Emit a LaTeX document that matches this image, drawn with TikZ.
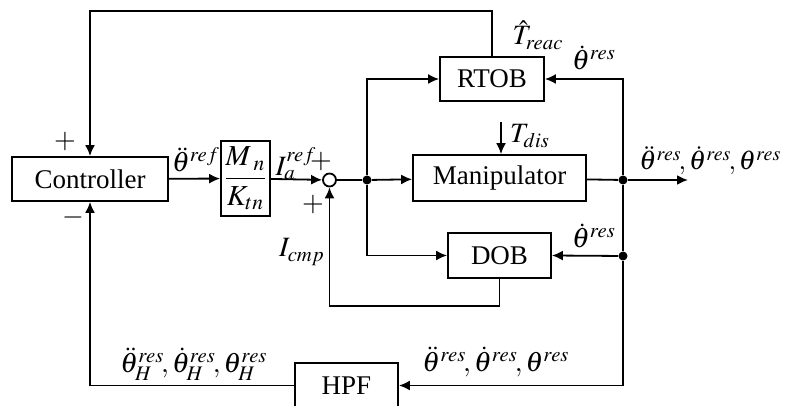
\documentclass[tikz,border=0pt]{standalone}
\usepackage{mathptmx}
\usepackage[no-math]{fontspec}
\setmainfont{Liberation Serif}
\usetikzlibrary{arrows.meta}
\tikzset{
  block/.style = {rectangle, draw=black, line width=0.9pt, align=center,
                  inner sep=2pt, font=\fontsize{13.5}{16}\selectfont},
  junc/.style  = {circle, draw=black, line width=0.9pt, fill=white,
                  minimum size=6.5pt, inner sep=0pt},
  tap/.style   = {circle, fill=black, minimum size=4.5pt, inner sep=0pt},
  flow/.style  = {-{Latex[length=5.5pt,width=5pt]}, line width=0.9pt},
  wire/.style  = {line width=0.9pt},
  sig/.style   = {font=\fontsize{14}{17}\selectfont, inner sep=0pt},
}

\begin{document}
\begin{tikzpicture}[x=0.5pt, y=-0.5pt]
      \clip (0,0) rectangle (787,406);
      \fill[white] (0,0) rectangle (787,406);

      % blocks
      \node[block, minimum width=78pt, minimum height=22pt]   (ctrl) at (90,179)    {Controller};
      \node[block, minimum width=24.5pt, minimum height=37.5pt, inner sep=1pt,
            font=\fontsize{14.5}{17}\selectfont] (gain) at (245.5,178.5)
           {$\displaystyle\frac{M_{\;n}}{K_{tn}}$};
      \node[junc]                                             (sum)  at (329.5,180) {};
      \node[tap]                                              (split) at (367,180)  {};
      \node[block, minimum width=52pt, minimum height=22pt]   (rtob) at (492,79)    {RTOB};
      \node[block, minimum width=86.5pt, minimum height=23pt] (man)  at (499.5,178) {Manipulator};
      \node[block, minimum width=51.5pt, minimum height=22.5pt] (dob) at (499.5,255.5) {DOB};
      \node[block, minimum width=51.5pt, minimum height=22.5pt] (hpf) at (346.5,385.5) {HPF};
      \node[tap]                                              (out)  at (623,180)   {};
      \node[tap]                                              (tapd) at (623,256)   {};

      \coordinate (yout) at (688,180);
      \coordinate (top)  at (0,11);
      \coordinate (ret)  at (0,306);
      \coordinate (tdis) at (501,122);

      % forward path
      \draw[flow] (ctrl) -- (gain);
      \draw[flow] (gain) -- (sum);
      \draw[wire] (sum) -- (split);
      \draw[flow] (split) -- (man);
      \draw[flow] (split) |- (rtob.west);
      \draw[flow] (split) |- (dob.west);
      \draw[wire] (man) -- (out);
      \draw[flow] (out) -- (yout);
      \draw[flow] (tdis) -- (tdis |- man.north);

      % feedback
      \draw[flow] (out) |- (rtob.east);
      \draw[wire] (out) -- (tapd);
      \draw[flow] (tapd) -- (dob.east);
      \draw[flow] (tapd) |- (hpf.east);
      \draw[flow] (rtob.north) |- (top -| ctrl.north) -- (ctrl.north);
      \draw[flow] (hpf.west) -| (ctrl.south);
      \draw[flow] (dob.south) |- (ret -| sum.south) -- (sum.south);

      % labels
      \node[sig] (lref)  at (196,160)   {$\ddot{\theta}^{ref}$};
      \node[sig] (lia)   at (296,164)   {$I_a^{ref}$};
      \node[sig] (pa)    at (321,162)   {$+$};
      \node[sig] (pb)    at (313,205)   {$+$};
      \node[sig] (lcmp)  at (302,252)   {$I_{cmp}$};
      \node[sig] (pc)    at (65,142)    {$+$};
      \node[sig] (mc)    at (73,218)    {$-$};
      \node[sig] (lreac) at (538,35)    {$\hat{T}_{reac}$};
      \node[sig] (lvr)   at (594,58)    {$\dot{\theta}^{res}$};
      \node[sig] (ldis)  at (530,136)   {$T_{dis}$};
      \node[sig, anchor=base west, font=\fontsize{13.5}{16}\selectfont] (lout) at (639,170)
           {$\ddot{\theta}^{res}\!,\dot{\theta}^{res}\!,\theta^{res}$};
      \node[sig] (lvd)   at (594,236)   {$\dot{\theta}^{res}$};
      \node[sig] (lbr)   at (496,362)   {$\ddot{\theta}^{res}\!,\dot{\theta}^{res}\!,\theta^{res}$};
      \node[sig] (lbl)   at (194,364)   {$\ddot{\theta}_H^{res}\!,\dot{\theta}_H^{res}\!,\theta_H^{res}$};
    \end{tikzpicture}
\end{document}
